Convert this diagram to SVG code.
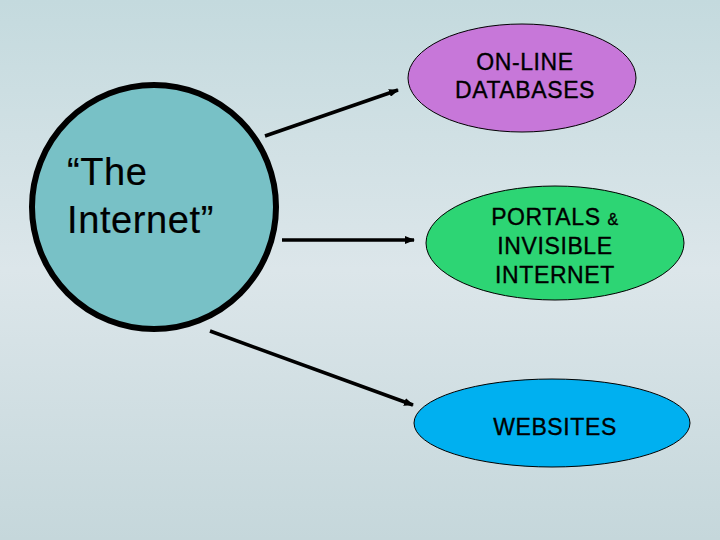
<svg xmlns="http://www.w3.org/2000/svg" width="720" height="540" viewBox="0 0 720 540">
<defs>
<linearGradient id="bg" x1="0" y1="0" x2="0" y2="1">
<stop offset="0" stop-color="#C4DADE"/>
<stop offset="0.5" stop-color="#DCE6EA"/>
<stop offset="1" stop-color="#C5D7DB"/>
</linearGradient>
<marker id="ah" markerWidth="10" markerHeight="8" refX="9" refY="4" orient="auto" markerUnits="userSpaceOnUse">
<path d="M0,0 L10,4 L0,8 Z" fill="#000"/>
</marker>
</defs>
<style>
.lbl{font-family:"Liberation Sans",Arial,sans-serif;fill:#000;text-anchor:middle;stroke:#000;stroke-width:0.35}
.sm{font-size:23px;letter-spacing:0.6px}
.conn{stroke:#000;stroke-width:3.5;fill:none;marker-end:url(#ah)}
.oval{stroke:#000;stroke-width:1}
</style>
<rect width="720" height="540" fill="url(#bg)"/>
<g id="connectors">
<line class="conn" x1="265" y1="136" x2="398" y2="90"/>
<line class="conn" x1="282" y1="240" x2="414" y2="240"/>
<line class="conn" x1="210" y1="331" x2="413" y2="405"/>
</g>
<g id="internet">
<circle cx="154" cy="207" r="122" fill="#78C1C6" stroke="#000" stroke-width="6"/>
<text class="lbl" style="text-anchor:start;stroke-width:0.2" x="67" y="185" font-size="38" letter-spacing="0.6">“The</text>
<text class="lbl" style="text-anchor:start;stroke-width:0.2" x="67" y="233" font-size="38" letter-spacing="0.6">Internet”</text>
</g>
<g id="databases">
<ellipse class="oval" cx="522" cy="78" rx="114" ry="54" fill="#C777D9"/>
<text class="lbl sm" x="525" y="70">ON-LINE</text>
<text class="lbl sm" x="525" y="98">DATABASES</text>
</g>
<g id="portals">
<ellipse class="oval" cx="555" cy="243" rx="129" ry="57" fill="#2DD574"/>
<text class="lbl sm" x="555" y="225">PORTALS <tspan font-size="16">&amp;</tspan></text>
<text class="lbl sm" x="555" y="254">INVISIBLE</text>
<text class="lbl sm" x="555" y="283">INTERNET</text>
</g>
<g id="websites">
<ellipse class="oval" cx="552" cy="423" rx="138" ry="44" fill="#00B0F0"/>
<text class="lbl sm" x="555" y="435">WEBSITES</text>
</g>
</svg>
